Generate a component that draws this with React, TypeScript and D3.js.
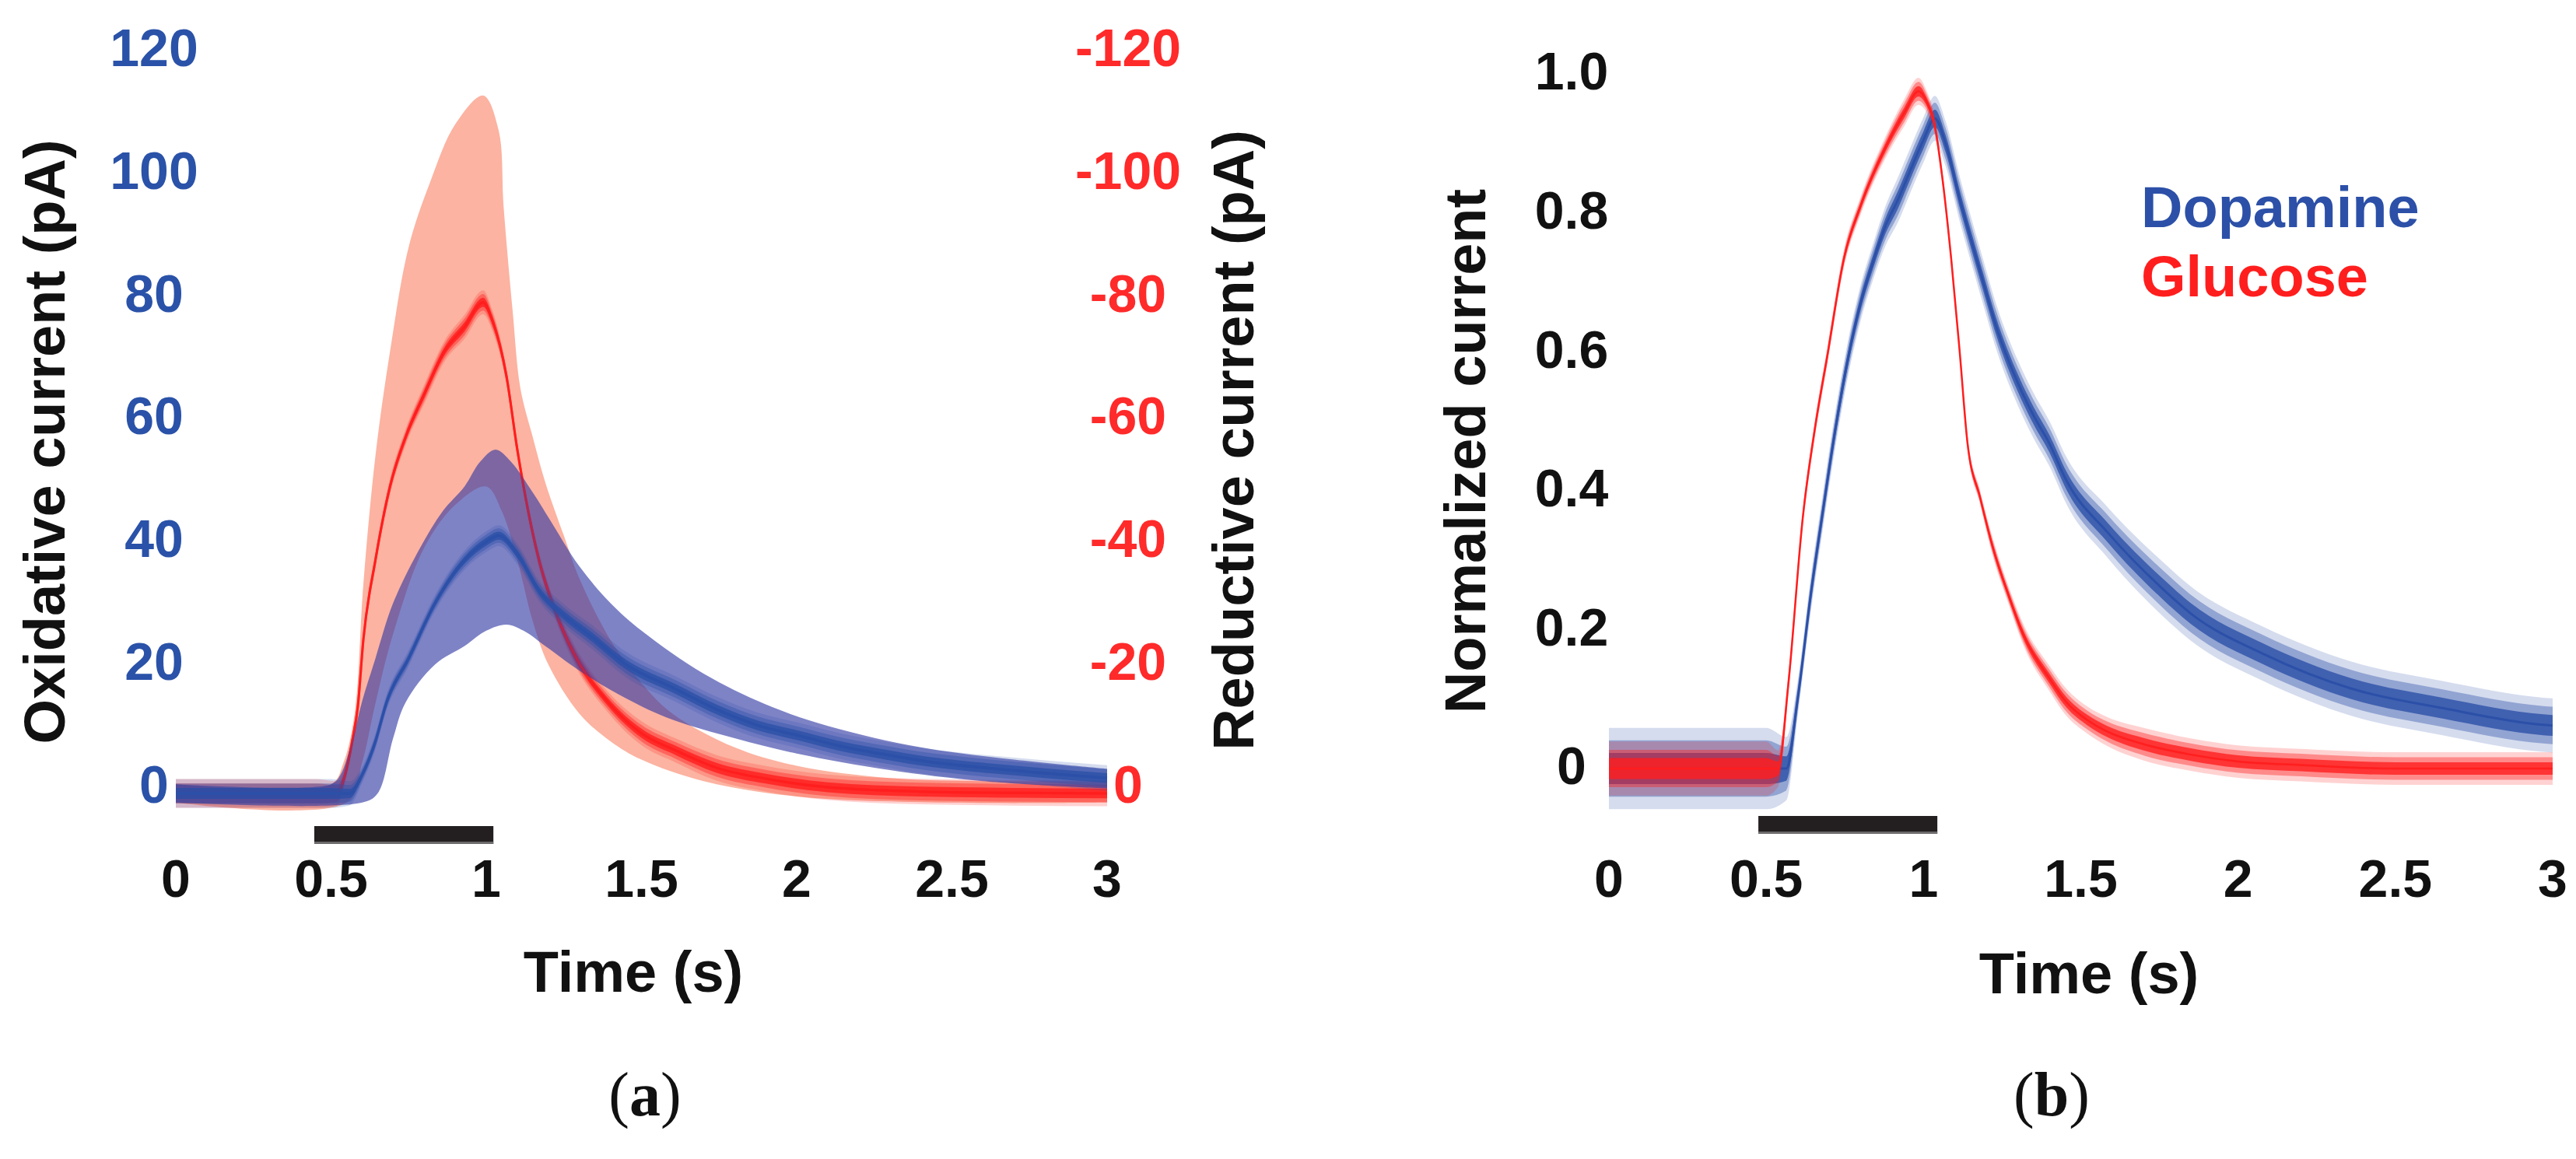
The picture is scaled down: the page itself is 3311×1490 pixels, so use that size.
import React from 'react';
import * as d3 from 'd3';

// ---------- tick values / labels ----------
const timeTicks = [0, 0.5, 1, 1.5, 2, 2.5, 3];
const timeTickLabels = ['0', '0.5', '1', '1.5', '2', '2.5', '3'];
const oxTicks = [0, 20, 40, 60, 80, 100, 120];
const oxTickLabels = ['0', '20', '40', '60', '80', '100', '120'];
const redTickLabels = ['0', '-20', '-40', '-60', '-80', '-100', '-120'];
const normTicks = [0, 0.2, 0.4, 0.6, 0.8, 1.0];
const normTickLabels = ['0', '0.2', '0.4', '0.6', '0.8', '1.0'];
const legendLabels = ['Dopamine', 'Glucose'];

// ---------- panel (a): [time s, current pA, trace noise pA] ----------
const dopamineMeanA: number[][] = [
  [0, 0, 1.8], [0.1, 0, 1.8], [0.2, 0, 1.8], [0.3, 0, 1.8], [0.4, 0, 1.8], [0.5, 0, 1.8],
  [0.56, 0, 1.5], [0.6, 3, 1], [0.64, 8, 1], [0.68, 15, 1], [0.75, 22, 1], [0.835, 31, 1],
  [0.93, 38, 1.2], [1.0, 41, 1.3], [1.04, 42, 1.3], [1.1, 39, 1.3], [1.17, 33, 1.3],
  [1.25, 29, 1.4], [1.34, 25.5, 1.5], [1.45, 21, 1.6], [1.61, 17, 1.6], [1.75, 13.5, 1.6],
  [1.88, 11, 1.6], [2.0, 9.5, 1.6], [2.15, 7.6, 1.6], [2.3, 6.2, 1.6], [2.42, 5.2, 1.6],
  [2.6, 4.2, 1.6], [2.8, 3.3, 1.6], [3.0, 2.5, 1.6],
];
const dopamineUpperA: number[][] = [
  [0, 1.5], [0.5, 1.5], [0.53, 3], [0.57, 9], [0.6, 15], [0.643, 22], [0.7, 31], [0.787, 40],
  [0.86, 46], [0.93, 50], [0.98, 54], [1.03, 56], [1.08, 54], [1.15, 49], [1.2, 45], [1.3, 37],
  [1.4, 31], [1.5, 26.5], [1.7, 19.5], [1.9, 14.5], [2.1, 11], [2.4, 7.5], [2.7, 5.5], [3.0, 4],
];
const dopamineLowerA: number[][] = [
  [0, -1.5], [0.6, -1.5], [0.65, 0], [0.7, 9], [0.74, 14.8], [0.835, 21], [0.93, 24],
  [1.0, 26.5], [1.065, 27.5], [1.12, 26.5], [1.19, 24], [1.3, 20], [1.45, 15.5], [1.6, 12],
  [1.8, 9], [2.0, 6.5], [2.3, 3.8], [2.6, 2], [3.0, 0.8],
];
// reductive current plotted as magnitude (axis labelled negative upward)
const glucoseMeanA: number[][] = [
  [0, 0, 1.8], [0.15, 0, 1.8], [0.3, 0, 1.8], [0.45, 0, 1.8], [0.52, 0, 1.5], [0.545, 3, 1],
  [0.57, 9, 1], [0.586, 14, 1], [0.604, 25, 1], [0.643, 38, 1], [0.69, 50, 1], [0.74, 58, 1],
  [0.8, 65, 1.2], [0.865, 72, 1.3], [0.93, 76, 1.5], [0.99, 80, 1.5], [1.02, 77, 1.3],
  [1.065, 68, 1], [1.1, 56, 1], [1.17, 38, 1], [1.22, 30, 1], [1.28, 23, 1.2], [1.39, 15, 1.3],
  [1.5, 9.8, 1.5], [1.61, 7, 1.5], [1.74, 4.2, 1.6], [1.9, 2.4, 1.6], [2.1, 1.0, 1.6],
  [2.4, 0.3, 1.6], [2.7, 0.1, 1.6], [3.0, 0, 1.6],
];
const glucoseUpperA: number[][] = [
  [0, 1.5], [0.5, 1.5], [0.54, 5], [0.576, 13], [0.604, 34], [0.643, 55], [0.69, 72],
  [0.75, 89], [0.82, 99.7], [0.9, 109], [0.99, 113.7], [1.04, 108], [1.056, 95.5],
  [1.085, 78.6], [1.11, 66], [1.15, 58], [1.19, 50.7], [1.25, 42], [1.3, 35], [1.4, 25],
  [1.5, 18], [1.6, 13], [1.8, 7.5], [2.0, 4.5], [2.3, 2.5], [2.6, 2], [3.0, 2],
];
const glucoseLowerA: number[][] = [
  [0, -1.5], [0.55, -1.5], [0.6, 5], [0.64, 14], [0.7, 26], [0.8, 40], [0.9, 47], [1.0, 50],
  [1.05, 46], [1.1, 38], [1.15, 28], [1.2, 21], [1.3, 13], [1.4, 8.5], [1.5, 5.5], [1.7, 2],
  [2.0, -0.5], [2.5, -1.5], [3.0, -1.5],
];
const stimulusA = [0.446, 1.023];

// ---------- panel (b): [time s, normalized current, trace noise] ----------
const dopamineNormB: number[][] = [
  [0, 0, 0.045], [0.25, 0, 0.045], [0.5, 0, 0.045], [0.564, 0, 0.035], [0.6, 0.1, 0.02],
  [0.643, 0.255, 0.02], [0.68, 0.37, 0.02], [0.72, 0.489, 0.02], [0.76, 0.59, 0.02],
  [0.8, 0.67, 0.02], [0.84, 0.73, 0.02], [0.878, 0.78, 0.022], [0.92, 0.82, 0.025],
  [0.957, 0.86, 0.025], [1.0, 0.905, 0.025], [1.036, 0.936, 0.025], [1.07, 0.9, 0.025],
  [1.118, 0.815, 0.025], [1.152, 0.76, 0.025], [1.19, 0.7, 0.025], [1.232, 0.635, 0.025],
  [1.3, 0.555, 0.025], [1.35, 0.508, 0.025], [1.4, 0.468, 0.025], [1.455, 0.414, 0.026],
  [1.585, 0.34, 0.028], [1.757, 0.26, 0.03], [1.85, 0.223, 0.03], [2.08, 0.165, 0.03],
  [2.36, 0.115, 0.03], [2.65, 0.087, 0.03], [2.97, 0.063, 0.03], [3.0, 0.062, 0.03],
];
const glucoseNormB: number[][] = [
  [0, 0, 0.03], [0.25, 0, 0.03], [0.5, 0, 0.03], [0.538, 0, 0.02], [0.57, 0.12, 0.012],
  [0.616, 0.36, 0.01], [0.655, 0.49, 0.01], [0.695, 0.596, 0.01], [0.747, 0.734, 0.01],
  [0.8, 0.81, 0.01], [0.878, 0.893, 0.012], [0.94, 0.945, 0.015], [0.984, 0.975, 0.015],
  [1.01, 0.96, 0.012], [1.036, 0.925, 0.01], [1.06, 0.85, 0.008], [1.088, 0.734, 0.008],
  [1.115, 0.6, 0.008], [1.14, 0.468, 0.008], [1.18, 0.39, 0.008], [1.22, 0.319, 0.01],
  [1.27, 0.25, 0.01], [1.32, 0.19, 0.012], [1.4, 0.13, 0.014], [1.455, 0.095, 0.015],
  [1.52, 0.07, 0.015], [1.585, 0.053, 0.016], [1.7, 0.035, 0.018], [1.85, 0.02, 0.018],
  [2.0, 0.01, 0.018], [2.2, 0.005, 0.018], [2.5, 0, 0.018], [3.0, 0, 0.018],
];
const stimulusB = [0.475, 1.044];

// ---------- styling ----------
const W = 3311;
const H = 1490;
const SANS = "'Liberation Sans', Arial, Helvetica, sans-serif";
const SERIF = "'Liberation Serif', 'Times New Roman', serif";
const BLUE_TXT = '#2a52a8';
const RED_TXT = '#ff2a2a';
const BLACK = '#111111';
const BLUE_LINE = '#2c50a8';
const RED_LINE = '#ff1e1e';
const TICK_FS = 68;
const TITLE_FS = 74;

type Scale = d3.ScaleLinear<number, number>;

function bandPath(upper: number[][], lower: number[][], x: Scale, y: Scale): string {
  const line = d3.line<number[]>().x((d) => x(d[0])).y((d) => y(d[1])).curve(d3.curveCatmullRom);
  const up = line(upper) || '';
  const low = (line(lower.slice().reverse()) || '').replace(/^M/, 'L');
  return up + low + 'Z';
}

function Trace({ data, x, y, color, width }: { data: number[][]; x: Scale; y: Scale; color: string; width: number }) {
  const band = (k: number) =>
    d3.area<number[]>().x((d) => x(d[0])).y0((d) => y(d[1] - d[2] * k)).y1((d) => y(d[1] + d[2] * k)).curve(d3.curveMonotoneX)(data) || '';
  const mid = d3.line<number[]>().x((d) => x(d[0])).y((d) => y(d[1])).curve(d3.curveMonotoneX);
  return (
    <g>
      <path d={band(1.3)} fill={color} opacity={0.2} />
      <path d={band(0.9)} fill={color} opacity={0.4} />
      <path d={band(0.5)} fill={color} opacity={0.8} />
      <path d={mid(data) || ''} fill="none" stroke={color} strokeWidth={width} strokeLinejoin="round" />
    </g>
  );
}

function StimBar({ stim, x, y0, h }: { stim: number[]; x: Scale; y0: number; h: number }) {
  return (
    <g>
      <rect x={x(stim[0])} y={y0} width={x(stim[1]) - x(stim[0])} height={h} fill="#231f20" />
      <rect x={x(stim[0])} y={y0 + h - 3} width={x(stim[1]) - x(stim[0])} height={3} fill="#6d6b6b" />
    </g>
  );
}

function TimeAxis({ x, baseline }: { x: Scale; baseline: number }) {
  return (
    <g fontFamily={SANS} fontWeight="bold" fontSize={TICK_FS} fill={BLACK} textAnchor="middle">
      {timeTicks.map((t, i) => (
        <text key={i} x={x(t)} y={baseline}>{timeTickLabels[i]}</text>
      ))}
    </g>
  );
}

function PanelA() {
  const x = d3.scaleLinear().domain([0, 3]).range([226, 1423]);
  const y = d3.scaleLinear().domain([0, 120]).range([1020, 73]);
  const capHalf = TICK_FS * 0.358;
  const redMid = d3.line<number[]>().x((d) => x(d[0])).y((d) => y(d[1])).curve(d3.curveMonotoneX);
  return (
    <g>
      {/* red (reductive) SEM band */}
      <path d={bandPath(glucoseUpperA, glucoseLowerA, x, y)} fill="#fcb3a1" />
      <Trace data={glucoseMeanA} x={x} y={y} color={RED_LINE} width={3} />
      {/* blue (oxidative) SEM band */}
      <path d={bandPath(dopamineUpperA, dopamineLowerA, x, y)} fill="rgb(47,55,163)" opacity={0.62} />
      {/* red mean seen through the blue band */}
      <path d={redMid(glucoseMeanA) || ''} fill="none" stroke={RED_LINE} strokeWidth={3} opacity={0.45} />
      <Trace data={dopamineMeanA} x={x} y={y} color={BLUE_LINE} width={3.5} />

      <StimBar stim={stimulusA} x={x} y0={1062} h={23} />

      {/* left axis labels */}
      <g fontFamily={SANS} fontWeight="bold" fontSize={TICK_FS} fill={BLUE_TXT} textAnchor="middle">
        {oxTicks.map((v, i) => (
          <text key={i} x={198} y={y(v) - 12.5 + capHalf}>{oxTickLabels[i]}</text>
        ))}
      </g>
      {/* right axis labels */}
      <g fontFamily={SANS} fontWeight="bold" fontSize={TICK_FS} fill={RED_TXT} textAnchor="middle">
        {oxTicks.map((v, i) => (
          <text key={i} x={1450} y={y(v) - 12.5 + capHalf}>{redTickLabels[i]}</text>
        ))}
      </g>
      <TimeAxis x={x} baseline={1153} />

      <g fontFamily={SANS} fontWeight="bold" fontSize={TITLE_FS} fill={BLACK} textAnchor="middle">
        <text transform="translate(83,568) rotate(-90)">Oxidative current (pA)</text>
        <text transform="translate(1611,566) rotate(-90)">Reductive current (pA)</text>
        <text x={814} y={1275}>Time (s)</text>
      </g>
      <text x={829} y={1434} textAnchor="middle" fontFamily={SERIF} fontSize={80} fill={BLACK}>
        (<tspan fontWeight="bold">a</tspan>)
      </text>
    </g>
  );
}

function PanelB() {
  const x = d3.scaleLinear().domain([0, 3]).range([2068, 3281]);
  const y = d3.scaleLinear().domain([0, 1]).range([988, 95]);
  const capHalf = TICK_FS * 0.358;
  return (
    <g>
      <Trace data={dopamineNormB} x={x} y={y} color={BLUE_LINE} width={3} />
      <Trace data={glucoseNormB} x={x} y={y} color={RED_LINE} width={2.5} />

      <StimBar stim={stimulusB} x={x} y0={1049} h={23} />

      <g fontFamily={SANS} fontWeight="bold" fontSize={TICK_FS} fill={BLACK} textAnchor="middle">
        {normTicks.map((v, i) => (
          <text key={i} x={2020} y={y(v) - 4 + capHalf}>{normTickLabels[i]}</text>
        ))}
      </g>
      <TimeAxis x={x} baseline={1153} />

      <g fontFamily={SANS} fontWeight="bold" fontSize={TITLE_FS} fill={BLACK}>
        <text transform="translate(1909,580) rotate(-90)" textAnchor="middle">Normalized current</text>
        <text x={2685} y={1277} textAnchor="middle">Time (s)</text>
        <text x={2752} y={292} fill={BLUE_LINE}>{legendLabels[0]}</text>
        <text x={2752} y={381} fill={RED_LINE}>{legendLabels[1]}</text>
      </g>
      <text x={2637} y={1434} textAnchor="middle" fontFamily={SERIF} fontSize={80} fill={BLACK}>
        (<tspan fontWeight="bold">b</tspan>)
      </text>
    </g>
  );
}

export default function App() {
  return (
    <div style={{ position: 'absolute', left: 0, top: 0, width: W, height: H, background: '#fff' }}>
      <svg width={W} height={H} viewBox={`0 0 ${W} ${H}`} style={{ display: 'block' }}>
        <rect width={W} height={H} fill="#ffffff" />
        <PanelA />
        <PanelB />
      </svg>
    </div>
  );
}
